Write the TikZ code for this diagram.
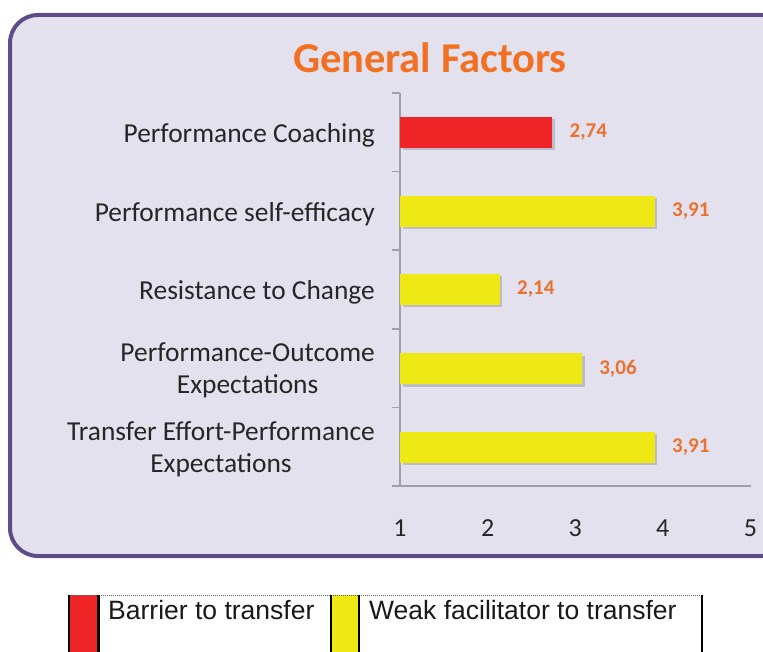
\documentclass[tikz,border=0pt]{standalone}
\usepackage{fontspec}
\setmainfont{Carlito}
\newfontfamily\legendfont{Liberation Sans}
\usetikzlibrary{positioning,shadows}
\definecolor{framepurple}{RGB}{94,76,138}
\definecolor{panelfill}{RGB}{227,225,238}
\definecolor{titleorange}{RGB}{242,112,34}
\definecolor{valorange}{RGB}{235,113,45}
\definecolor{barred}{RGB}{238,36,38}
\definecolor{baryellow}{RGB}{238,232,20}
\definecolor{axisgray}{RGB}{160,160,164}
\tikzset{
  catlabel/.style={anchor=east,align=center,inner sep=0pt,font=\fontsize{27.4}{32}\selectfont,text=black!85},
  vallabel/.style={inner sep=0pt,font=\fontsize{21}{25}\selectfont\bfseries,text=valorange},
  ticklabel/.style={inner sep=0pt,font=\fontsize{26}{32}\selectfont,text=black!85},
  barbox/.style={anchor=west,inner sep=0pt,outer sep=0pt,minimum height=31pt,
    drop shadow={shadow xshift=2.5pt,shadow yshift=-2.5pt,opacity=.3,fill=black!60}},
  axisline/.style={draw=axisgray,line width=1.6pt},
  legendtext/.style={anchor=base west,inner sep=0pt,font=\legendfont\fontsize{26.5}{30}\selectfont,text=black!90}
}
\begin{document}
\begin{tikzpicture}[x=1pt,y=-1pt]
\useasboundingbox (0,0) rectangle (763,652);
\clip (0,0) rectangle (763,652);
%\draw [help lines] (0,0) grid[step=50] (763,652);
% panel
\draw[framepurple,line width=4pt,fill=panelfill,rounded corners=28pt] (10,15) rectangle (790,556);
\node[font=\fontsize{42.5}{50}\selectfont\bfseries,text=titleorange] (title) at (430,58) {General Factors};
% axes
\draw[axisline] (400,93) -- (400,486);
\foreach \y in {93,171.6,250.2,328.8,407.4}
  \draw[axisline] (392,\y) -- (400,\y);
\draw[axisline] (392,486) -- (751,486);
\node[ticklabel] (t1) at (400,528) {1};
\node[ticklabel] (t2) at (487.6,528) {2};
\node[ticklabel] (t3) at (575.2,528) {3};
\node[ticklabel] (t4) at (662.8,528) {4};
\node[ticklabel] (t5) at (750.4,528) {5};
% bars
\node[barbox,fill=barred,minimum width=152.4pt] (coach) at (400,132.5) {};
\node[barbox,fill=baryellow,minimum width=254.9pt] (selfeff) at (400,211.5) {};
\node[barbox,fill=baryellow,minimum width=99.9pt] (resist) at (400,289.5) {};
\node[barbox,fill=baryellow,minimum width=182.1pt] (outcome) at (400,368.5) {};
\node[barbox,fill=baryellow,minimum width=254.9pt] (effort) at (400,447) {};
% values
\node[vallabel,right=17pt of coach] (vcoach) {2,74};
\node[vallabel,right=17pt of selfeff] (vselfeff) {3,91};
\node[vallabel,right=17pt of resist] (vresist) {2,14};
\node[vallabel,right=17pt of outcome] (voutcome) {3,06};
\node[vallabel,right=17pt of effort] (veffort) {3,91};
% categories
\node[catlabel] (lcoach) at (375,135) {Performance Coaching};
\node[catlabel] (lselfeff) at (375,214) {Performance self-efficacy};
\node[catlabel] (lresist) at (375,292) {Resistance to Change};
\node[catlabel] (loutcome) at (375,370) {Performance-Outcome\\Expectations};
\node[catlabel] (leffort) at (375,449) {Transfer Effort-Performance\\Expectations};
% legend
\fill[white] (69,595) rectangle (703,660);
\fill[barred] (70,595) rectangle (97,660);
\fill[baryellow] (332,595) rectangle (358,660);
\draw[black!60,densely dotted,line width=1pt] (69,595) -- (703,595);
\draw[line width=2.2pt] (69,595) -- (69,660) (98.5,595) -- (98.5,660)
  (331,595) -- (331,660) (359,595) -- (359,660) (702,595) -- (702,660);
\node[legendtext] (lbarrier) at (108,619) {Barrier to transfer};
\node[legendtext] (lweak) at (369,619) {Weak facilitator to transfer};
\end{tikzpicture}
\end{document}
